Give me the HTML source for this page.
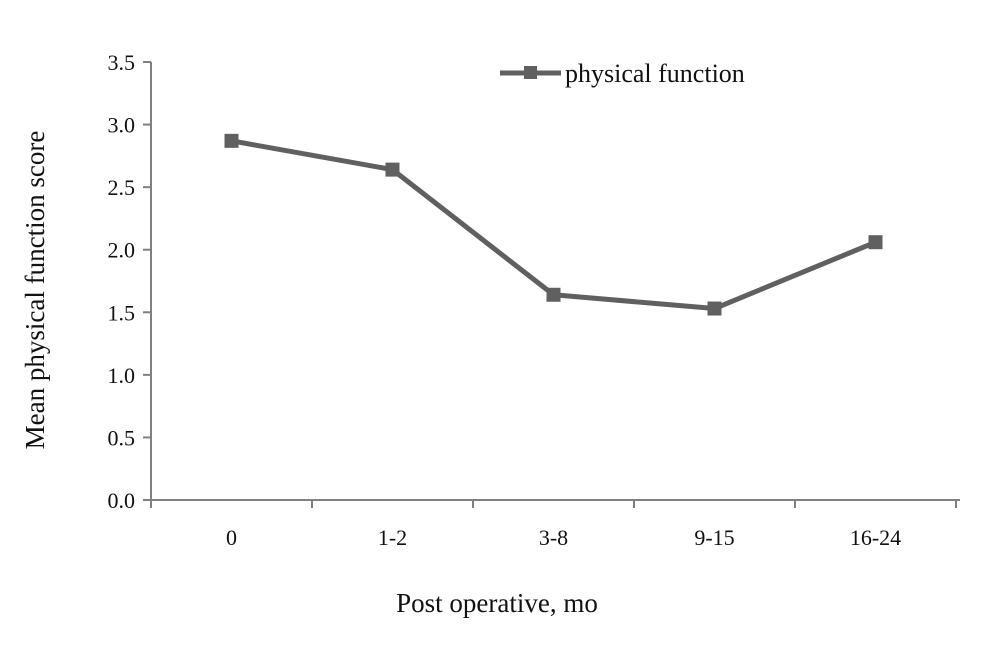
<!DOCTYPE html>
<html><head><meta charset="utf-8"><style>
body{margin:0;background:#fff;}
svg{display:block;font-family:"Liberation Serif",serif;}
</style></head><body>
<svg id="chart" width="1000" height="652">
<g id="axes"></g><g id="marks"></g>
<text x="44" y="290" font-size="27" text-anchor="middle" transform="rotate(-90 44 290)" fill="#111">Mean physical function score</text>
<text x="497" y="612" font-size="27" text-anchor="middle" fill="#111">Post operative, mo</text>
<g>
<line x1="500" y1="73" x2="561" y2="73" stroke="#606060" stroke-width="5"/>
<rect x="524" y="66" width="13" height="13" fill="#606060"/>
<text x="565" y="82" font-size="26" fill="#111">physical function</text>
</g>
</svg>
<script>
const categories=["0","1-2","3-8","9-15","16-24"];
const values=[2.87,2.64,1.64,1.53,2.06];
const yTicks=[0,0.5,1,1.5,2,2.5,3,3.5];
const NS="http://www.w3.org/2000/svg";
const x0=151,x1=956,yBase=500,yTop=62,yMax=3.5;
const band=(x1-x0)/categories.length;
function xs(i){return x0+band*(i+0.5);}
function ys(v){return yBase-(v/yMax)*(yBase-yTop);}
function mk(t,a,p){const e=document.createElementNS(NS,t);for(const k in a)e.setAttribute(k,a[k]);p.appendChild(e);return e;}
const axes=document.getElementById('axes'),marks=document.getElementById('marks');
const ya=mk('line',{x1:x0,y1:yTop,x2:x0,y2:yBase,stroke:'#808080','stroke-width':2},axes);


const xa=mk('line',{x1:x0-8,y1:yBase,x2:x1+4,y2:yBase,stroke:'#808080','stroke-width':2},axes);


yTicks.forEach(v=>{
 mk('line',{x1:x0-8,y1:ys(v),x2:x0,y2:ys(v),stroke:'#808080','stroke-width':2},axes);
 const t=mk('text',{x:x0-16,y:ys(v)+8,'font-size':22,'text-anchor':'end',fill:'#111'},axes);
 t.textContent=v.toFixed(1);
 
 
});
for(let i=0;i<=categories.length;i++){
 mk('line',{x1:x0+band*i,y1:yBase,x2:x0+band*i,y2:yBase+8,stroke:'#808080','stroke-width':2},axes);
}
categories.forEach((c,i)=>{
 const t=mk('text',{x:xs(i),y:yBase+45,'font-size':22,'text-anchor':'middle',fill:'#111'},axes);
 t.textContent=c;
 
 
});
const pl=mk('polyline',{points:values.map((v,i)=>xs(i)+','+ys(v)).join(' '),fill:'none',stroke:'#606060','stroke-width':5,'stroke-linejoin':'round'},marks);


values.forEach((v,i)=>{
 const r=mk('rect',{x:xs(i)-7,y:ys(v)-7,width:14,height:14,fill:'#606060'},marks);
 
 
});
</script>
</body></html>
